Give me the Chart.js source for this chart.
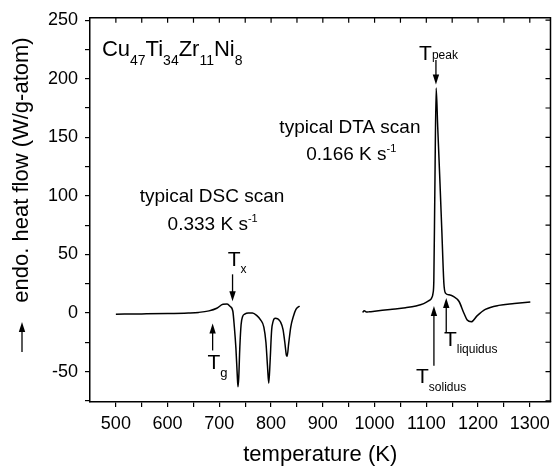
<!DOCTYPE html>
<html>
<head>
<meta charset="utf-8">
<script src="https://cdn.jsdelivr.net/npm/chart.js@4.4.1/dist/chart.umd.min.js"></script>
<style>
  html, body { margin: 0; padding: 0; background: #fff; }
  #wrap { width: 556px; height: 474px; }
</style>
</head>
<body>
<div id="wrap"><canvas id="myChart" width="556" height="474"></canvas></div>
<script>
// DSC scan (0.333 K/s)
const dscTemp = [500, 550, 600, 640, 660, 680, 695, 707, 715, 721, 726, 729, 732, 734.5, 736, 737.5, 739.5, 742, 745, 749, 756, 764, 772, 780, 786, 790, 793, 795.5, 798, 801, 804, 808, 813, 818, 823, 826.5, 829.5, 831, 834, 838, 843, 848, 855];
const dscFlow = [-1, -0.8, -0.5, 0, 0.5, 1.8, 4, 7.4, 7.6, 5.5, 1.7, -12, -30, -52, -63, -55, -30, -10, -3, -1, 0, 0, -2, -6, -12, -25, -45, -60, -42, -15, -7, -4.5, -5, -7.5, -14, -25, -36, -37, -26, -12, -3, 3, 6];

// DTA scan (0.166 K/s)
const dtaTemp = [977, 980, 984, 990, 1000, 1030, 1060, 1080, 1095, 1105, 1110, 1113, 1114.5, 1116.5, 1119, 1122, 1126.5, 1130, 1134, 1137, 1144, 1153, 1163, 1172.5, 1179, 1187, 1198, 1214, 1240, 1270, 1301];
const dtaFlow = [0.5, 2, 0.8, 1, 1.5, 3, 4.5, 6, 8, 10.5, 12.5, 17, 27, 105, 192, 159, 110, 70, 25, 17, 15.5, 14, 10, 0, -6, -7.5, -2.5, 3, 6.5, 8, 9.3];

// axes
const xTickValues = [500, 550, 600, 650, 700, 750, 800, 850, 900, 950, 1000, 1050, 1100, 1150, 1200, 1250, 1300];
const xLabelValues = [500, 600, 700, 800, 900, 1000, 1100, 1200, 1300];
const yTickValues = [-75, -50, -25, 0, 25, 50, 75, 100, 125, 150, 175, 200, 225, 250];
const yLabelValues = [-50, 0, 50, 100, 150, 200, 250];

const FONT = "'Liberation Sans', Arial, Helvetica, sans-serif";
Chart.defaults.font.family = FONT;
Chart.defaults.color = "#000";

function toPoints(xs, ys) {
  return xs.map((x, i) => ({ x: x, y: ys[i] }));
}

// text in pieces: [text, size, baseline shift]
function drawRich(ctx, x, y, parts) {
  let cx = x;
  parts.forEach(p => {
    ctx.font = p[1] + "px " + FONT;
    ctx.fillText(p[0], cx, y + (p[2] || 0));
    cx += ctx.measureText(p[0]).width + (p[3] || 0);
  });
}

function drawArrow(ctx, x, y1, y2) {
  const dir = y2 > y1 ? 1 : -1;
  ctx.beginPath();
  ctx.moveTo(x, y1);
  ctx.lineTo(x, y2 - dir * 8);
  ctx.stroke();
  ctx.beginPath();
  ctx.moveTo(x, y2);
  ctx.lineTo(x - 3.2, y2 - dir * 10);
  ctx.lineTo(x + 3.2, y2 - dir * 10);
  ctx.closePath();
  ctx.fill();
}

const decorations = {
  id: "decorations",
  afterDraw(chart) {
    const ctx = chart.ctx;
    const xs = chart.scales.x;
    const ys = chart.scales.y;
    const a = chart.chartArea;
    const px = v => xs.getPixelForValue(v);
    const py = v => ys.getPixelForValue(v);

    ctx.save();
    ctx.fillStyle = "#000";
    ctx.strokeStyle = "#000";

    // top and right frame with inward ticks
    ctx.lineWidth = 1.5;
    ctx.beginPath();
    ctx.moveTo(a.left, a.top);
    ctx.lineTo(a.right, a.top);
    ctx.lineTo(a.right, a.bottom);
    ctx.stroke();
    ctx.lineWidth = 1.2;
    ctx.beginPath();
    xTickValues.forEach(v => {
      ctx.moveTo(px(v), a.top);
      ctx.lineTo(px(v), a.top + 5);
    });
    yTickValues.forEach(v => {
      ctx.moveTo(a.right, py(v));
      ctx.lineTo(a.right - 5, py(v));
    });
    ctx.stroke();

    // annotations
    ctx.textAlign = "left";
    ctx.textBaseline = "alphabetic";
    drawRich(ctx, px(473), py(219.5), [["Cu", 22], ["47", 14, 9], ["Ti", 22], ["34", 14, 9], ["Zr", 22], ["11", 14, 9], ["Ni", 22], ["8", 14, 9]]);
    drawRich(ctx, px(816), py(154), [["typical DTA scan", 19]]);
    drawRich(ctx, px(868), py(130.5), [["0.166 K s", 19], ["-1", 11, -8]]);
    drawRich(ctx, px(546), py(95), [["typical DSC scan", 19]]);
    drawRich(ctx, px(600), py(71), [["0.333 K s", 19], ["-1", 11, -8]]);
    drawRich(ctx, px(1086), py(216), [["T", 21], ["peak", 12, -1]]);
    drawRich(ctx, px(716), py(40), [["T", 21], ["x", 12, 7]]);
    drawRich(ctx, px(677), py(-47.5), [["T", 21], ["g", 13, 8]]);
    drawRich(ctx, px(1080), py(-60), [["T", 21], ["solidus", 12, 8]]);
    drawRich(ctx, px(1134), py(-28), [["T", 21], ["liquidus", 12, 7]]);

    ctx.lineWidth = 1.3;
    drawArrow(ctx, px(1118.6), py(216), py(195));
    drawArrow(ctx, px(725.5), py(33), py(10));
    drawArrow(ctx, px(687), py(-32), py(-9));
    drawArrow(ctx, px(1114.7), py(-45), py(6));
    drawArrow(ctx, px(1138.5), py(-17), py(12.7));

    // axis titles
    ctx.font = "22px " + FONT;
    ctx.textAlign = "center";
    ctx.textBaseline = "middle";
    ctx.fillText("temperature (K)", (a.left + a.right) / 2, 455);

    ctx.save();
    ctx.translate(22, 170);
    ctx.rotate(-Math.PI / 2);
    ctx.fillText("endo. heat flow (W/g-atom)", 0, 0);
    ctx.restore();
    ctx.lineWidth = 1.3;
    drawArrow(ctx, 22, 352, 322);

    ctx.restore();
  }
};

function createChart() {
  const ctx = document.getElementById("myChart").getContext("2d");
  new Chart(ctx, {
    type: "scatter",
    data: {
      datasets: [
        {
          label: "DSC",
          data: toPoints(dscTemp, dscFlow),
          showLine: true,
          borderColor: "#000",
          borderWidth: 1.5,
          pointRadius: 0,
          cubicInterpolationMode: "monotone",
        },
        {
          label: "DTA",
          data: toPoints(dtaTemp, dtaFlow),
          showLine: true,
          borderColor: "#000",
          borderWidth: 1.5,
          pointRadius: 0,
          cubicInterpolationMode: "monotone",
        },
      ],
    },
    options: {
      responsive: false,
      animation: false,
      layout: { padding: { top: 15, right: 4, left: 0, bottom: 0 } },
      plugins: {
        legend: { display: false },
        tooltip: { enabled: false },
      },
      scales: {
        x: {
          type: "linear",
          min: 450,
          max: 1340,
          afterFit: s => { s.height = 72; },
          afterBuildTicks: s => { s.ticks = xTickValues.map(v => ({ value: v })); },
          ticks: {
            font: { size: 18 },
            padding: 6,
            maxRotation: 0,
            autoSkip: false,
            callback: v => (xLabelValues.includes(v) ? String(v) : ""),
          },
          grid: { drawOnChartArea: false, tickLength: 5, color: "#000", lineWidth: 1.2 },
          border: { color: "#000", width: 1.5 },
        },
        y: {
          type: "linear",
          min: -76,
          max: 252,
          afterFit: s => { s.width = 90; },
          afterBuildTicks: s => { s.ticks = yTickValues.map(v => ({ value: v })); },
          ticks: {
            font: { size: 18 },
            padding: 7,
            autoSkip: false,
            callback: v => (yLabelValues.includes(v) ? String(v) : ""),
          },
          grid: { drawOnChartArea: false, tickLength: 5, color: "#000", lineWidth: 1.2 },
          border: { color: "#000", width: 1.5 },
        },
      },
    },
    plugins: [decorations],
  });
}

createChart();
</script>
</body>
</html>
